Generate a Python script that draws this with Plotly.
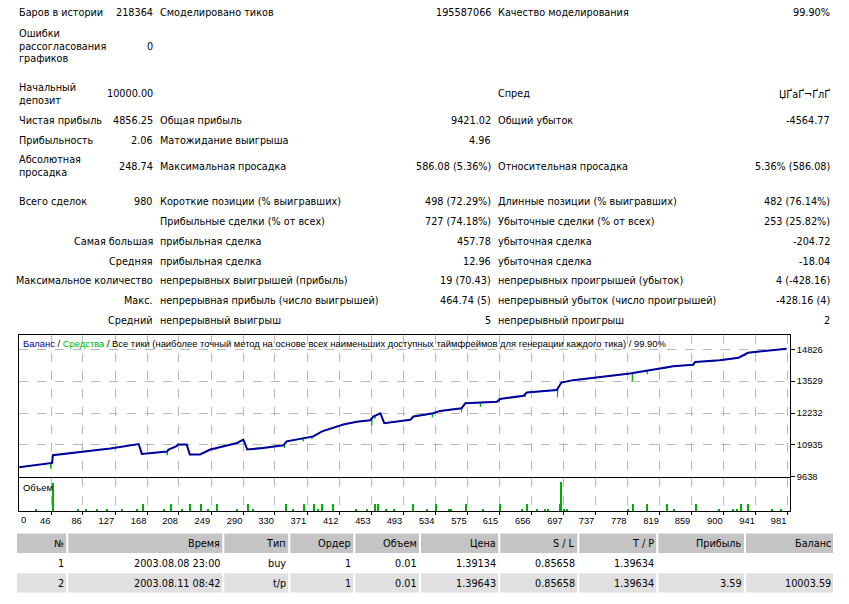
import numpy as np
import plotly.graph_objects as go

W, H = 849, 604
FONT = "DejaVu Sans, Verdana, sans-serif"
CFONT = "Liberation Sans, Arial, sans-serif"

# ---------------- statistics block (data) ----------------
labels_a = ["Баров в истории", "Ошибки<br>рассогласования<br>графиков", "Начальный<br>депозит",
            "Чистая прибыль", "Прибыльность", "Абсолютная<br>просадка", "Всего сделок",
            "", "", "", "", "", ""]
values_a = ["218364", "0", "10000.00", "4856.25", "2.06", "248.74", "980", "",
            "Самая большая", "Средняя", "Максимальное количество", "Макс.", "Средний"]
labels_b = ["Смоделировано тиков", "", "", "Общая прибыль", "Матожидание выигрыша",
            "Максимальная просадка", "Короткие позиции (% выигравших)",
            "Прибыльные сделки (% от всех)", "прибыльная сделка", "прибыльная сделка",
            "непрерывных выигрышей (прибыль)", "непрерывная прибыль (число выигрышей)",
            "непрерывный выигрыш"]
values_b = ["195587066", "", "", "9421.02", "4.96", "586.08 (5.36%)", "498 (72.29%)",
            "727 (74.18%)", "457.78", "12.96", "19 (70.43)", "464.74 (5)", "5"]
labels_c = ["Качество моделирования", "", "Спред", "Общий убыток", "", "Относительная просадка",
            "Длинные позиции (% выигравших)", "Убыточные сделки (% от всех)", "убыточная сделка",
            "убыточная сделка", "непрерывных проигрышей (убыток)",
            "непрерывный убыток (число проигрышей)", "непрерывный проигрыш"]
values_c = ["99.90%", "", "ЏҐаҐ¬ҐлҐ", "-4564.77", "", "5.36% (586.08)", "482 (76.14%)",
            "253 (25.82%)", "-204.72", "-18.04", "4 (-428.16)", "-428.16 (4)", "2"]

# ---------------- balance / equity (data) ----------------
bal_n = [0, 44, 47, 48, 91, 121, 157, 161, 193, 195, 205, 207, 218, 222, 235, 248, 256, 282,
         290, 295, 315, 341, 345, 366, 379, 390, 402, 417, 434, 451, 455, 464, 469, 502, 506,
         527, 531, 540, 567, 572, 612, 616, 646, 650, 688, 694, 709, 781, 802, 828, 836, 861,
         864, 895, 919, 931, 972, 980]
bal_v = [10000, 10180, 10200, 10515, 10676, 10785, 10971, 10567, 10664, 10745, 10878, 10947,
         10947, 10543, 10543, 10745, 10810, 11012, 11149, 10745, 10810, 10919, 11080, 11189,
         11282, 11484, 11605, 11767, 11876, 11941, 12090, 12224, 11820, 11957, 12090, 12183,
         12224, 12320, 12426, 12628, 12696, 12805, 12939, 13072, 13169, 13476, 13573, 13840,
         13949, 14070, 14138, 14203, 14312, 14381, 14486, 14688, 14825, 14856]
eq_dip_n = [45, 193, 255, 342, 366, 377, 453, 457, 530, 567, 591, 615, 648, 689, 784, 803, 862, 927]
eq_dip_v = [9980, 10515, 10745, 10810, 11080, 11189, 11727, 11997, 12062, 12264, 12482, 12668,
            12886, 12870, 13532, 13815, 14151, 14555]

# ---------------- volume (data) ----------------
vol_n = [27, 48, 80, 91, 104, 117, 136, 155, 163, 190, 198, 212, 223, 236, 245, 257, 282, 296,
         303, 344, 353, 368, 380, 385, 390, 404, 433, 447, 457, 461, 471, 482, 506, 524, 535,
         552, 554, 573, 595, 616, 644, 651, 664, 673, 678, 692, 694, 698, 702, 779, 785, 803,
         829, 837, 865, 895, 913, 917, 923, 931, 962, 973]
vol_v = [0.05, 0.85, 0.05, 0.05, 0.05, 0.05, 0.05, 0.05, 0.22, 0.05, 0.22, 0.05, 0.22, 0.22,
         0.05, 0.22, 0.05, 0.22, 0.05, 0.22, 0.05, 0.22, 0.22, 0.05, 0.22, 0.22, 0.05, 0.05,
         0.22, 0.22, 0.05, 0.05, 0.22, 0.05, 0.22, 0.05, 0.05, 0.22, 0.05, 0.22, 0.05, 0.22,
         0.05, 0.05, 0.05, 0.22, 0.88, 0.05, 0.05, 0.05, 0.22, 0.22, 0.22, 0.05, 0.22, 0.05,
         0.05, 0.05, 0.22, 0.22, 0.05, 0.05]

x_ticks = [46, 86, 127, 168, 208, 249, 290, 330, 371, 412, 453, 493, 534, 575, 615, 656, 697,
           737, 778, 819, 859, 900, 941, 981]
y_ticks = [9638, 10935, 12232, 13529, 14826]

# ---------------- deals table (data) ----------------
tbl_header = ["№", "Время", "Тип", "Ордер", "Объем", "Цена", "S / L", "T / P", "Прибыль", "Баланс"]
tbl_rows = [["1", "2003.08.08 23:00", "buy", "1", "0.01", "1.39134", "0.85658", "1.39634", "", ""],
            ["2", "2003.08.11 08:42", "t/p", "1", "0.01", "1.39643", "0.85658", "1.39634", "3.59", "10003.59"]]


def fx(x):
    return x / W


def fy(y):
    return 1 - y / H


# equity path: follows balance, with downward spikes
pts = list(zip(bal_n, bal_v))
for n, v in zip(eq_dip_n, eq_dip_v):
    b0 = float(np.interp(n, bal_n, bal_v))
    b1 = float(np.interp(n + 0.6, bal_n, bal_v))
    pts += [(n - 0.001, b0), (n, v), (n + 0.6, b1)]
pts.sort(key=lambda p: p[0])
eq_x = [p[0] for p in pts]
eq_y = [p[1] for p in pts]

BLUE = "#0000a0"
GREEN = "#00b000"

fig = go.Figure()
fig.add_trace(go.Scatter(x=eq_x, y=eq_y, mode="lines", line=dict(color=GREEN, width=1),
                         hoverinfo="skip", xaxis="x", yaxis="y"))
fig.add_trace(go.Scatter(x=bal_n, y=bal_v, mode="lines", line=dict(color=BLUE, width=2),
                         hoverinfo="skip", xaxis="x", yaxis="y"))
fig.add_trace(go.Bar(x=vol_n, y=vol_v, width=1.3, marker=dict(color=GREEN, line=dict(width=0)),
                     hoverinfo="skip", xaxis="x2", yaxis="y2"))

XL, XR = 19.3, 790
xr = [5.35, 984.4]
grid = dict(showgrid=True, gridcolor="#b8b8b8", griddash="dash", gridwidth=1)
frame = dict(showline=True, mirror=True, linecolor="black", linewidth=1, zeroline=False)
tickf = dict(family=CFONT, size=9.3, color="black")

fig.update_layout(
    width=W, height=H, margin=dict(l=0, r=0, t=0, b=0),
    paper_bgcolor="white", plot_bgcolor="white", showlegend=False,
    bargap=0,
    xaxis=dict(domain=[fx(XL), fx(XR)], range=xr, tickvals=x_ticks, showticklabels=False,
               ticks="", anchor="y", **grid, **frame),
    yaxis=dict(domain=[fy(480.7), fy(338)], range=[9638, 15404], side="right", anchor="x",
               tickvals=y_ticks, ticktext=[str(v) for v in y_ticks], ticks="outside", ticklen=4,
               tickcolor="black", tickfont=tickf, **grid, **frame),
    xaxis2=dict(domain=[fx(XL), fx(XR)], range=xr, tickvals=x_ticks,
                ticktext=[str(t) for t in x_ticks], ticks="outside", ticklen=3,
                tickcolor="black", ticklabelposition="outside left", tickfont=tickf,
                anchor="y2", **grid, **frame),
    yaxis2=dict(domain=[fy(515.7), fy(482.3)], range=[0, 1], side="right", anchor="x2",
                showticklabels=False, showgrid=False, ticks="", **frame),
)

ann = []


def text(x, y, s, anchor="left", size=9.7, color="black", family=FONT):
    ann.append(dict(x=fx(x), y=fy(y), xref="paper", yref="paper", text=s, showarrow=False,
                    xanchor=anchor, yanchor="middle", align=anchor, borderpad=0,
                    font=dict(family=family, size=size, color=color)))


row_y = [13, 46.5, 94.5, 121.7, 141.7, 167.8, 203.3, 223.3, 243.3, 263.3, 283.3, 303.3, 323.3]
for i, y in enumerate(row_y):
    if labels_a[i]:
        text(18, y, labels_a[i])
    if values_a[i]:
        text(154, y, values_a[i], "right")
    if labels_b[i]:
        text(159, y, labels_b[i])
    if values_b[i]:
        text(492, y, values_b[i], "right")
    if labels_c[i]:
        text(497, y, labels_c[i])
    if values_c[i]:
        text(831, y, values_c[i], "right")

# chart captions
text(22, 346, f"<span style='color:{BLUE}'>Баланс</span> / <span style='color:{GREEN}'>Средства</span>"
     " / Все тики (наиболее точный метод на основе всех наименьших доступных таймфреймов для "
     "генерации каждого тика) / 99.90%", size=9.4, family=CFONT)
text(22, 491.3, "Объем", size=9.4, family=CFONT)
text(20, 524, "0", size=9.3, family=CFONT)

# deals table
col_edges = [16, 67.3, 223.3, 289.3, 354.3, 420, 499.3, 578.3, 657.3, 745, 834]
row_tops = [538, 558, 578]
row_fill = ["#c4c4c4", "#ffffff", "#e0e0e0"]
shapes = []
all_rows = [tbl_header] + tbl_rows
for r, cells in enumerate(all_rows):
    top = row_tops[r]
    for c, s in enumerate(cells):
        x0, x1 = col_edges[c], col_edges[c + 1]
        shapes.append(dict(type="rect", xref="paper", yref="paper", x0=fx(x0 + 1), x1=fx(x1 - 1),
                           y0=fy(top + 19.5), y1=fy(top), fillcolor=row_fill[r],
                           line=dict(width=0), layer="below"))
        if s:
            text(x1 - 2.5, top + 10, s, "right")

fig.update_layout(annotations=ann, shapes=shapes)
fig.write_html("out.html")
